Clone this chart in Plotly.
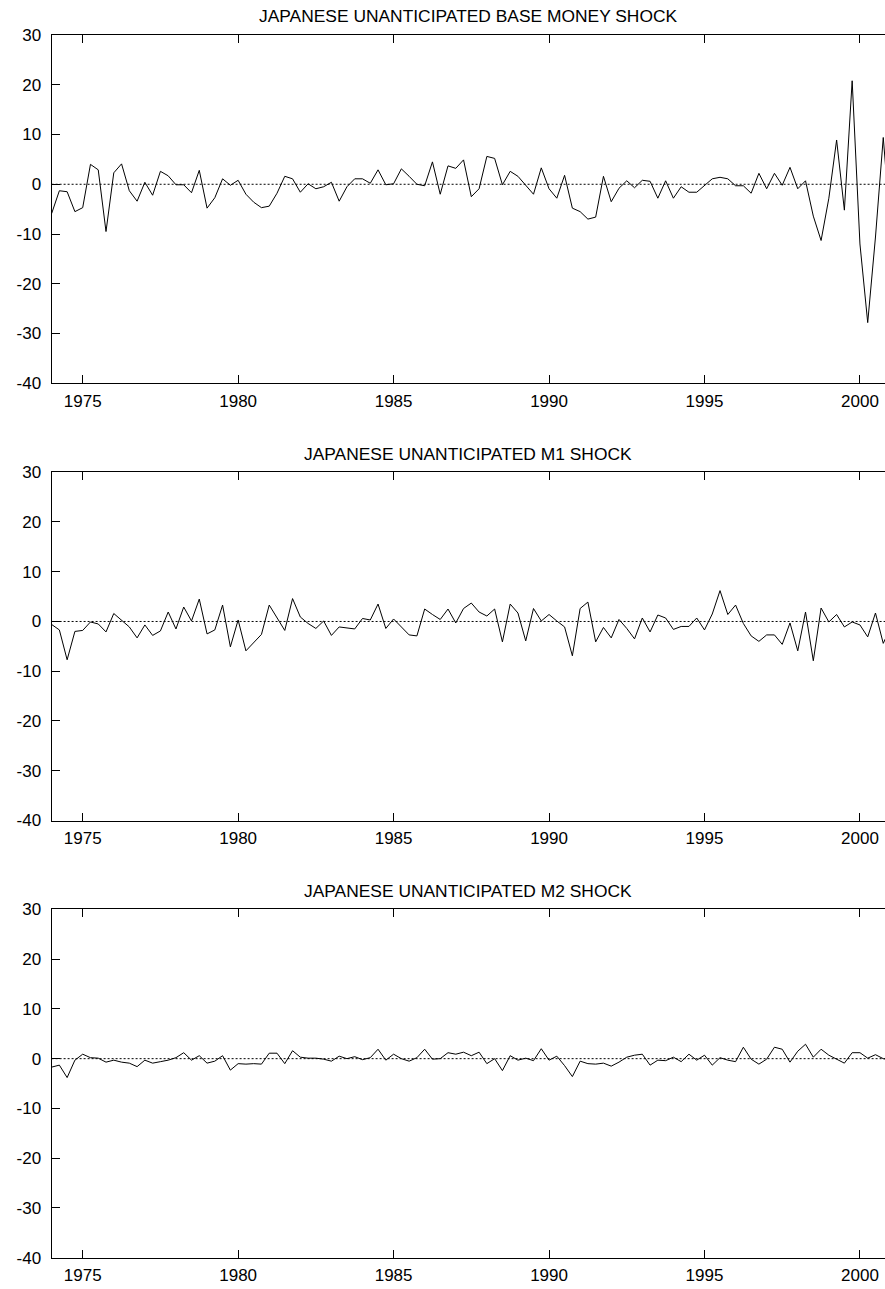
import plotly.graph_objects as go

# Quarterly data, 1974Q1 onward
START_YEAR = 1974

base_money = [
    -5.9, -1.3, -1.5, -5.5, -4.7, 4.0, 2.9, -9.5, 2.3, 4.1,
    -1.3, -3.4, 0.4, -2.2, 2.6, 1.7, -0.1, -0.1, -1.7, 2.8,
    -4.8, -2.7, 1.1, -0.2, 0.8, -2.0, -3.6, -4.7, -4.4, -1.8,
    1.6, 1.1, -1.6, 0.1, -0.9, -0.5, 0.4, -3.4, -0.5, 1.1,
    1.1, 0.2, 2.9, -0.1, 0.1, 3.1, 1.6, 0.0, -0.3, 4.5,
    -2.0, 3.7, 3.2, 4.9, -2.5, -0.9, 5.6, 5.2, -0.1, 2.6,
    1.6, -0.3, -2.0, 3.3, -0.9, -2.8, 1.8, -4.8, -5.5, -7.0,
    -6.6, 1.6, -3.5, -0.8, 0.7, -0.7, 0.8, 0.6, -2.8, 0.7,
    -2.8, -0.5, -1.6, -1.6, -0.3, 1.1, 1.4, 1.1, -0.3, -0.3,
    -1.8, 2.2, -0.9, 2.2, -0.2, 3.4, -0.9, 0.7, -6.4, -11.3,
    -2.8, 8.9, -5.2, 20.8, -12.0, -27.8, -10.6, 9.4, -10.0,
]

m1 = [
    -0.6, -1.7, -7.7, -2.0, -1.8, -0.1, -0.5, -2.1, 1.6, 0.3,
    -1.1, -3.3, -0.7, -2.8, -1.9, 1.9, -1.5, 2.9, 0.1, 4.5,
    -2.5, -1.7, 3.3, -5.1, 0.3, -5.9, -4.3, -2.6, 3.3, 0.8,
    -1.8, 4.6, 0.9, -0.4, -1.4, 0.1, -2.8, -1.1, -1.3, -1.5,
    0.6, 0.3, 3.5, -1.4, 0.5, -1.1, -2.7, -2.9, 2.5, 1.4,
    0.4, 2.5, -0.3, 2.6, 3.7, 1.9, 1.1, 2.5, -4.1, 3.5,
    1.7, -3.9, 2.6, 0.1, 1.4, 0.1, -1.1, -6.9, 2.6, 3.9,
    -4.1, -1.2, -3.3, 0.4, -1.4, -3.5, 0.7, -2.1, 1.3, 0.7,
    -1.6, -1.0, -1.0, 0.7, -1.7, 1.5, 6.2, 1.4, 3.3, -0.4,
    -2.9, -4.0, -2.7, -2.7, -4.6, -0.3, -5.9, 1.9, -7.9, 2.7,
    -0.1, 1.4, -1.1, -0.1, -0.7, -3.1, 1.7, -4.4, -1.0,
]

m2 = [
    -1.7, -1.3, -3.8, -0.3, 0.9, 0.2, 0.1, -0.7, -0.3, -0.7,
    -0.9, -1.6, -0.3, -0.9, -0.6, -0.3, 0.2, 1.2, -0.3, 0.6,
    -0.9, -0.5, 0.6, -2.3, -1.0, -1.1, -1.0, -1.1, 1.1, 1.1,
    -1.0, 1.6, 0.3, 0.1, 0.1, -0.1, -0.5, 0.5, 0.0, 0.4,
    -0.2, 0.2, 1.9, -0.3, 0.9, 0.0, -0.5, 0.2, 1.9, -0.1,
    0.0, 1.2, 0.9, 1.3, 0.6, 1.3, -1.0, 0.0, -2.4, 0.6,
    -0.3, 0.1, -0.4, 2.0, -0.3, 0.5, -1.4, -3.6, -0.5, -1.0,
    -1.1, -0.9, -1.5, -0.7, 0.3, 0.7, 0.9, -1.3, -0.3, -0.4,
    0.3, -0.6, 0.9, -0.3, 0.7, -1.3, 0.2, -0.3, -0.6, 2.3,
    -0.1, -1.1, -0.1, 2.3, 1.9, -0.7, 1.5, 2.9, 0.3, 1.9,
    0.7, -0.1, -0.9, 1.2, 1.2, 0.1, 0.8, 0.0, -0.3,
]

titles = [
    "JAPANESE UNANTICIPATED BASE MONEY SHOCK",
    "JAPANESE UNANTICIPATED M1 SHOCK",
    "JAPANESE UNANTICIPATED M2 SHOCK",
]

x_tick_vals = [1975, 1980, 1985, 1990, 1995, 2000]
x_tick_text = ["1975", "1980", "1985", "1990", "1995", "2000"]
y_tick_vals = [-40, -30, -20, -10, 0, 10, 20, 30]
y_tick_text = ["-40", "-30", "-20", "-10", "0", "10", "20", "30"]

W, H = 885, 1289
FONT = "Liberation Sans, Arial, Helvetica, sans-serif"
FS = 17
TITLE_FS = 17.4

# panel pixel geometry
left_px = 51.6
px_per_year = 31.09
x_end = START_YEAR + (W - left_px) / px_per_year
panel_tops = [35.0, 472.2, 909.4]
panel_h = 348.3

fig = go.Figure()
series = [base_money, m1, m2]

annotations = []
shapes = []
for k, ys in enumerate(series):
    n = len(ys)
    xs = [START_YEAR + q / 4 for q in range(n)]
    xa = "x" if k == 0 else f"x{k+1}"
    ya = "y" if k == 0 else f"y{k+1}"
    fig.add_trace(go.Scatter(x=xs, y=ys, mode="lines",
                             line=dict(color="black", width=1),
                             xaxis=xa, yaxis=ya, showlegend=False,
                             hoverinfo="skip"))
    top = panel_tops[k]
    bot = top + panel_h
    dom = [1 - bot / H, 1 - top / H]
    xkey = "xaxis" if k == 0 else f"xaxis{k+1}"
    ykey = "yaxis" if k == 0 else f"yaxis{k+1}"
    fig.layout[xkey] = dict(
        domain=[left_px / W, 1], anchor=ya, range=[START_YEAR, x_end],
        tickvals=x_tick_vals, ticktext=x_tick_text,
        ticks="inside", ticklen=8, tickwidth=1, tickcolor="black",
        showline=True, linecolor="black", linewidth=1, mirror="ticks",
        showgrid=False, zeroline=False, automargin=False,
        tickfont=dict(family=FONT, size=FS, color="black"),
        ticklabelstandoff=2,
    )
    fig.layout[ykey] = dict(
        domain=dom, anchor=xa, range=[-40, 30],
        tickvals=y_tick_vals, ticktext=y_tick_text,
        ticks="inside", ticklen=8, tickwidth=1, tickcolor="black",
        showline=True, linecolor="black", linewidth=1, mirror=False,
        showgrid=False, zeroline=False, automargin=False,
        tickfont=dict(family=FONT, size=FS, color="black"),
        ticklabelstandoff=6,
    )
    # right-side tick stubs
    rkey = f"yaxis{k+4}"
    fig.layout[rkey] = dict(
        overlaying=ya, side="right", anchor=xa, range=[-40, 30],
        tickvals=y_tick_vals, showticklabels=False,
        ticks="inside", ticklen=3, tickwidth=1, tickcolor="black",
        showline=False, showgrid=False, zeroline=False, automargin=False,
    )
    # dotted zero reference line
    shapes.append(dict(type="line", xref=f"{xa} domain", yref=ya,
                       x0=0, x1=1, y0=0, y1=0,
                       line=dict(color="black", width=1, dash="2px,2px")))
    annotations.append(dict(text=titles[k], xref="paper", yref="paper",
                            x=(left_px / W + 1) / 2, y=1 - (top - 18.6) / H,
                            xanchor="center", yanchor="middle", showarrow=False,
                            font=dict(family=FONT, size=TITLE_FS, color="black")))

fig.update_layout(
    template="none",
    width=W, height=H,
    margin=dict(l=0, r=0, t=0, b=0, pad=0, autoexpand=False),
    paper_bgcolor="white", plot_bgcolor="white",
    annotations=annotations, shapes=shapes,
)

fig.write_html(
    "out.html",
    post_script="document.body.style.margin='0';document.body.style.overflow='hidden';",
)
